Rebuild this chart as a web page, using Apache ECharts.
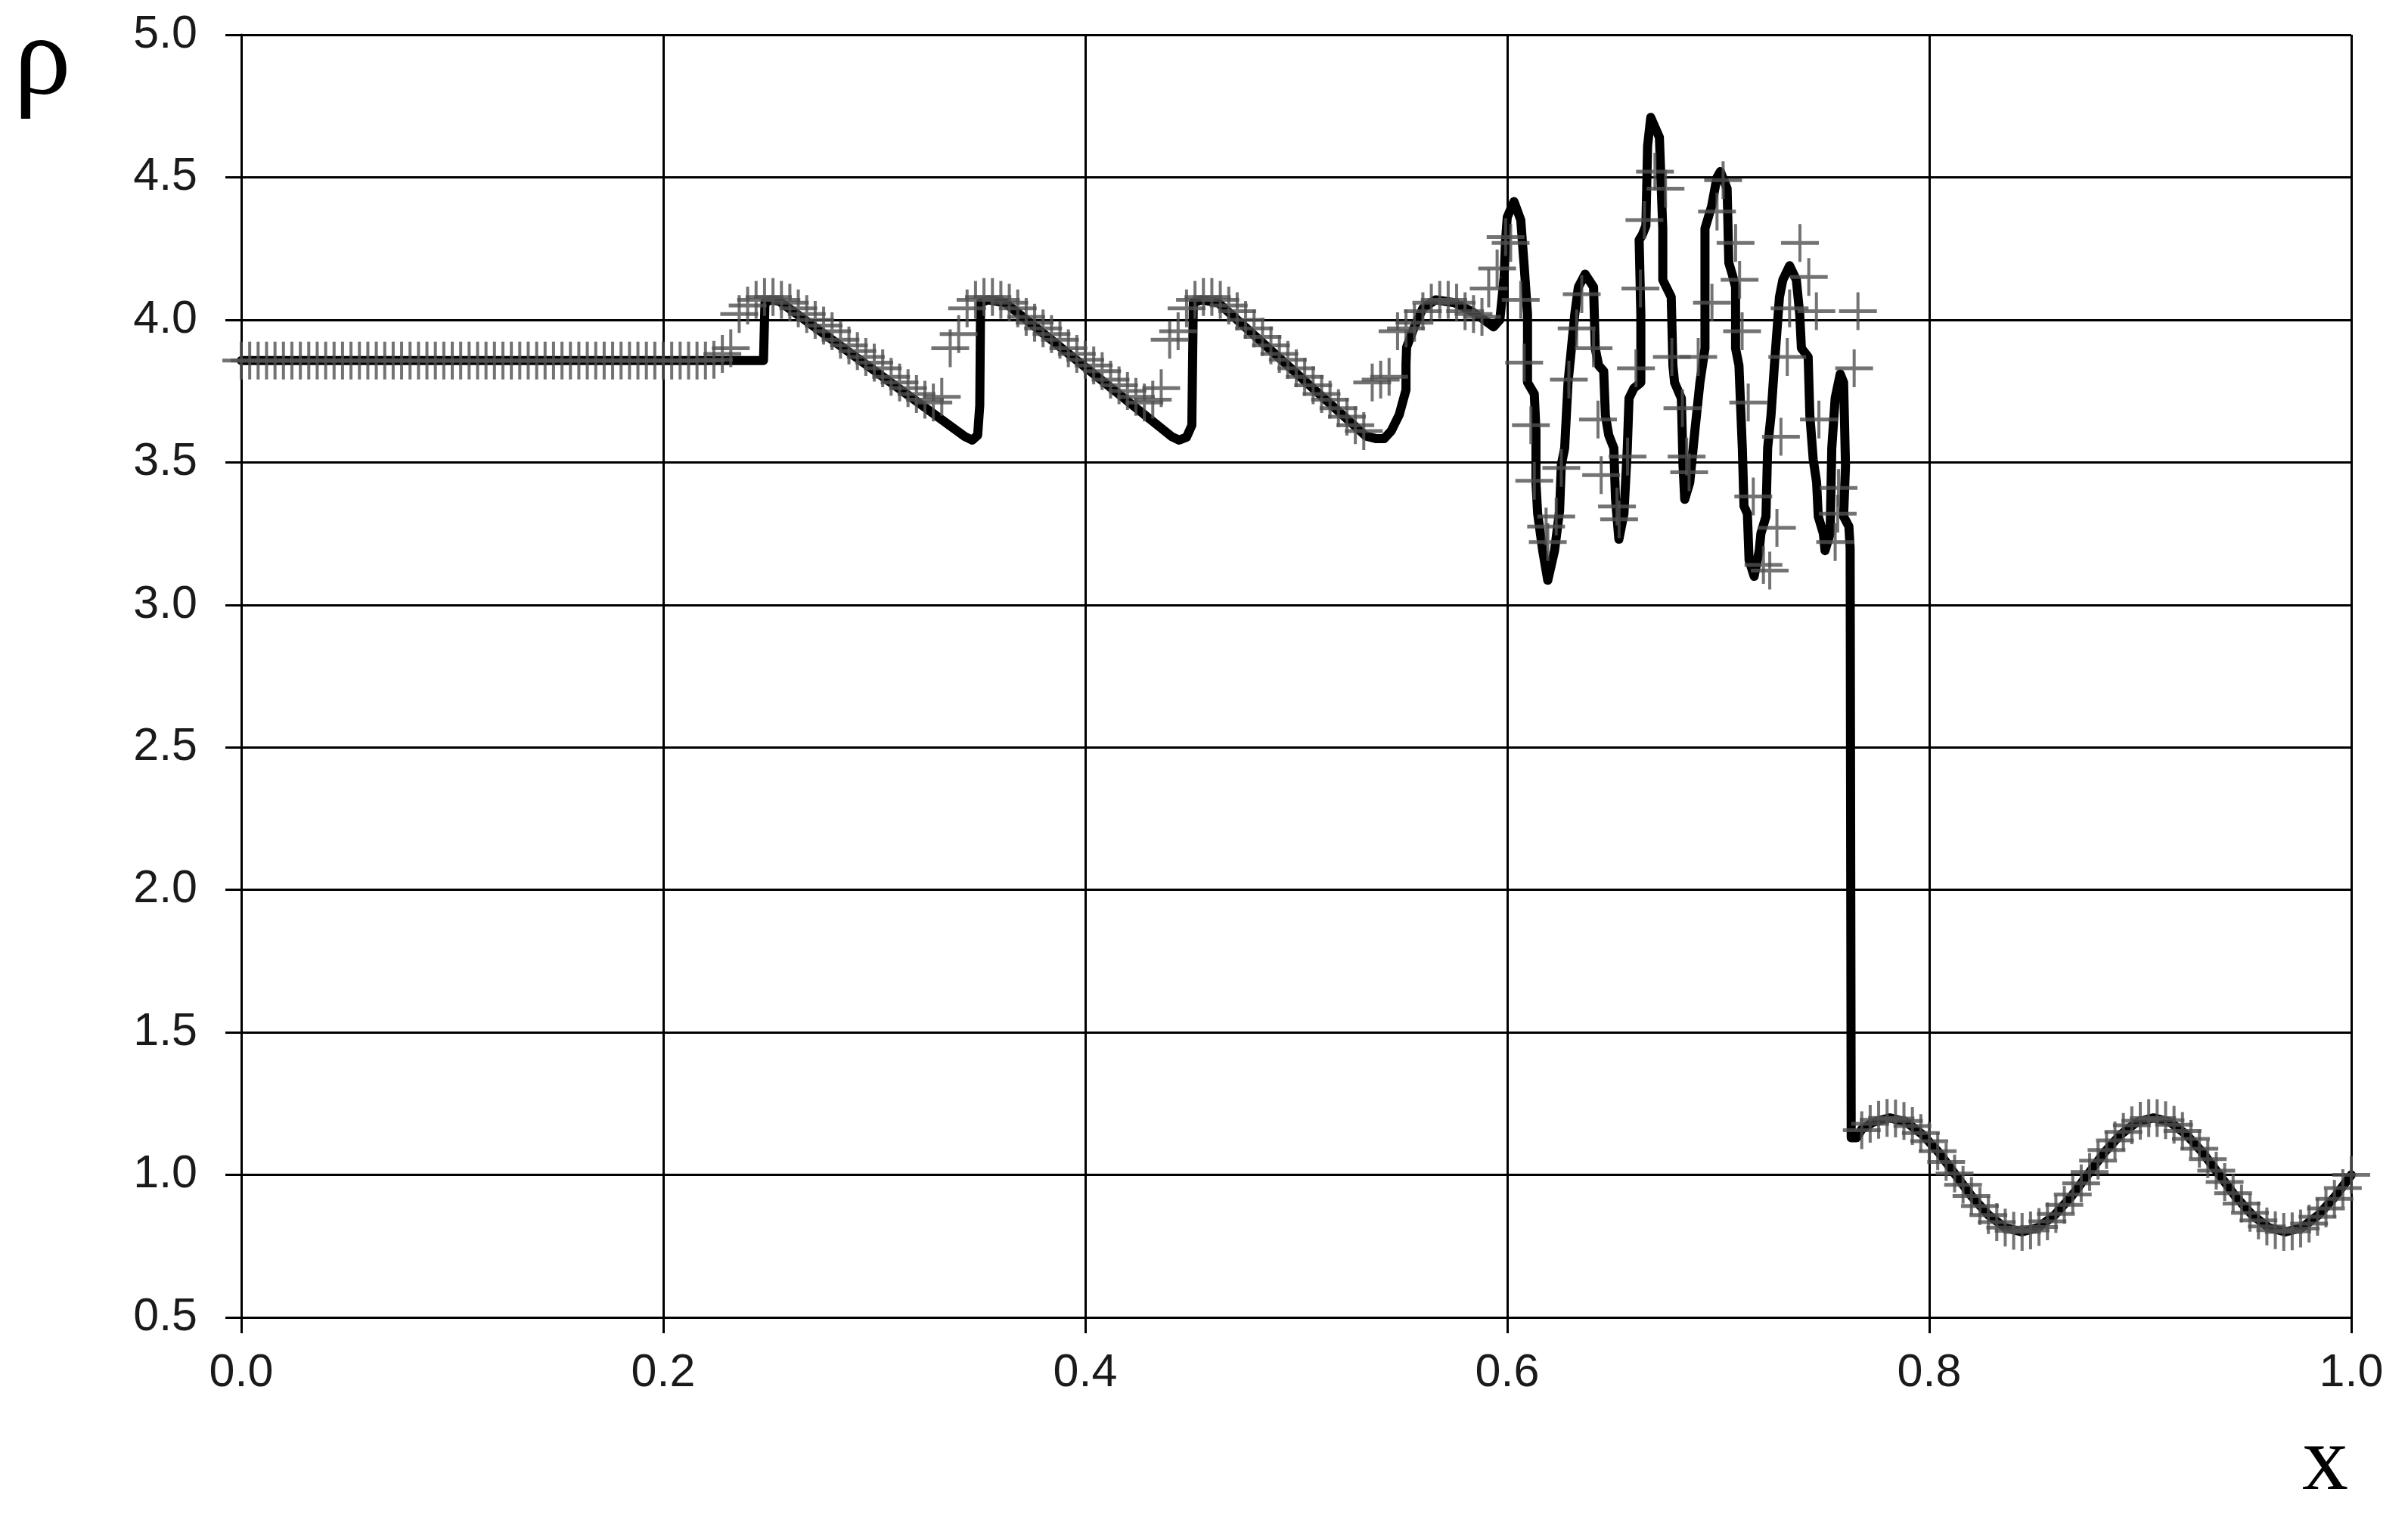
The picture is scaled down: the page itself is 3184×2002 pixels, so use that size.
<!DOCTYPE html>
<html>
<head>
<meta charset="utf-8">
<script src="https://cdn.jsdelivr.net/npm/echarts@6/dist/echarts.min.js"></script>
<style>
html,body{margin:0;padding:0;background:#fff;}
#chart{width:3184px;height:2002px;}
</style>
</head>
<body>
<div id="chart"></div>
<script>
// ---- axis ticks ----
const xTicks = [0.0, 0.2, 0.4, 0.6, 0.8, 1.0];
const yTicks = [0.5, 1.0, 1.5, 2.0, 2.5, 3.0, 3.5, 4.0, 4.5, 5.0];

// ---- exact solution (black line) ----
const exactX = [0,0.2475,0.2482,0.2510,0.2550,0.3430,0.3465,0.3490,0.3500,0.3504,0.3540,0.3620,0.4410,0.4445,0.4480,0.4505,0.4512,0.4550,0.4630,0.5330,0.5380,0.5416,0.5450,0.5488,0.5520,0.5520,0.5523,0.5559,0.5600,0.5660,0.5750,0.5830,0.5890,0.5935,0.5965,0.5985,0.5992,0.6000,0.6032,0.6064,0.6080,0.6096,0.6096,0.6128,0.6136,0.6136,0.6144,0.6168,0.6192,0.6224,0.6248,0.6256,0.6272,0.6288,0.6304,0.6320,0.6337,0.6369,0.6409,0.6417,0.6433,0.6457,0.6465,0.6481,0.6505,0.6513,0.6529,0.6553,0.6569,0.6577,0.6600,0.6633,0.6633,0.6625,0.6641,0.6657,0.6665,0.6680,0.6721,0.6737,0.6737,0.6777,0.6785,0.6793,0.6825,0.6833,0.6841,0.6865,0.6889,0.6913,0.6937,0.6937,0.6937,0.6969,0.6994,0.7010,0.7042,0.7050,0.7066,0.7082,0.7082,0.7098,0.7114,0.7122,0.7138,0.7146,0.7170,0.7194,0.7202,0.7226,0.7234,0.7250,0.7266,0.7290,0.7306,0.7338,0.7370,0.7386,0.7394,0.7426,0.7434,0.7450,0.7466,0.7474,0.7498,0.7506,0.7530,0.7538,0.7554,0.7578,0.7594,0.7603,0.7594,0.7619,0.7625,0.7630,0.7655,0.7680,0.7734,0.7813,0.7891,0.7969,0.8047,0.8125,0.8203,0.8281,0.8359,0.8438,0.8516,0.8594,0.8672,0.8750,0.8828,0.8906,0.8984,0.9063,0.9141,0.9219,0.9297,0.9375,0.9453,0.9531,0.9609,0.9688,0.9766,0.9844,0.9922,1.0];
const exactY = [3.857,3.857,4.06,4.07,4.065,3.59,3.578,3.595,3.70,4.06,4.07,4.06,3.59,3.578,3.588,3.63,4.06,4.07,4.06,3.592,3.583,3.583,3.61,3.667,3.754,3.842,3.904,3.974,4.04,4.07,4.06,4.03,4.00,3.975,4.00,4.15,4.28,4.36,4.415,4.35,4.19,4.02,3.78,3.74,3.61,3.43,3.32,3.19,3.086,3.19,3.33,3.49,3.55,3.78,3.90,4.02,4.115,4.16,4.115,3.90,3.84,3.82,3.665,3.595,3.55,3.37,3.23,3.32,3.55,3.725,3.76,3.78,4.02,4.28,4.30,4.33,4.61,4.71,4.64,4.32,4.14,4.08,3.84,3.78,3.725,3.49,3.37,3.43,3.61,3.78,3.90,4.08,4.32,4.40,4.50,4.52,4.46,4.20,4.16,4.115,3.90,3.84,3.55,3.346,3.32,3.157,3.10,3.19,3.25,3.31,3.55,3.665,3.84,4.08,4.14,4.19,4.14,4.02,3.90,3.87,3.665,3.51,3.43,3.31,3.25,3.19,3.25,3.55,3.725,3.81,3.78,3.49,3.31,3.275,3.20,1.13,1.13,1.16,1.185,1.20,1.185,1.141,1.077,1.00,0.923,0.859,0.815,0.80,0.815,0.859,0.923,1.00,1.077,1.141,1.185,1.20,1.185,1.141,1.077,1.00,0.923,0.859,0.815,0.80,0.815,0.859,0.923,1.00];

// ---- numerical solution (grey + markers) ----
const gridStep = 0.004;
// uniform cells from x = 0 to x = 0.588
const leftY = [3.857,3.857,3.857,3.857,3.857,3.857,3.857,3.857,3.857,3.857,3.857,3.857,3.857,3.857,3.857,3.857,3.857,3.857,3.857,3.857,3.857,3.857,3.857,3.857,3.857,3.857,3.857,3.857,3.857,3.857,3.857,3.857,3.857,3.857,3.857,3.857,3.857,3.857,3.857,3.857,3.857,3.857,3.857,3.857,3.857,3.857,3.857,3.857,3.857,3.857,3.857,3.857,3.857,3.857,3.857,3.857,
 3.86,3.88,3.90,4.02,4.05,4.07,4.08,4.08,4.07,4.06,
 4.04,4.02,4.00,3.98,3.96,3.93,3.91,3.89,3.87,3.85,3.83,3.80,3.78,3.76,3.74,3.72,3.71,
 3.73,3.90,3.95,4.04,4.07,4.08,4.08,4.07,4.06,
 4.04,4.01,3.99,3.97,3.95,3.93,3.90,3.88,3.86,3.84,3.82,3.79,3.77,3.75,3.73,3.71,
 3.72,3.76,3.93,3.96,4.04,4.07,4.08,4.08,4.07,4.05,
 4.03,4.00,3.97,3.94,3.91,3.88,3.86,3.83,3.80,3.77,3.74,3.72,3.69,3.66,3.63,3.61,
 3.78,3.79,3.80,3.96,3.97,3.99,4.03,4.06,4.07,4.07,4.06,4.03,4.02,4.01];
// oscillatory zone, read marker by marker
const midX = [0.5912,0.5952,0.5992,0.6016,0.6064,0.6080,0.6112,0.6128,0.6184,0.6192,0.6232,0.6256,0.6292,0.6329,0.6353,0.6409,0.6430,0.6445,0.6520,0.6530,0.6570,0.6610,0.6631,0.6650,0.6700,0.6750,0.6780,0.6830,0.6850,0.6862,0.6905,0.6970,0.6994,0.7023,0.7082,0.7101,0.7113,0.7142,0.7166,0.7214,0.7244,0.7278,0.7297,0.7327,0.7338,0.7387,0.7429,0.7465,0.7477,0.7554,0.7566,0.7570,0.7644,0.7662];
const midY = [4.11,4.18,4.29,4.27,4.07,3.85,3.63,3.435,3.275,3.22,3.31,3.48,3.79,3.97,4.09,3.90,3.65,3.455,3.345,3.30,3.52,3.83,4.11,4.35,4.52,4.46,3.87,3.69,3.52,3.465,3.87,4.06,4.38,4.49,4.27,4.14,3.96,3.71,3.38,3.14,3.12,3.27,3.59,3.87,4.04,4.27,4.15,4.03,3.65,3.22,3.32,3.41,3.83,4.03];
// uniform cells from x = 0.768 to x = 1.0
const rightX0 = 0.768;
const rightY = [1.157,1.179,1.193,1.200,1.198,1.189,1.171,1.147,1.118,1.083,1.045,1.005,0.965,0.926,0.891,0.859,0.834,0.815,0.804,0.800,0.805,0.817,0.837,0.863,0.895,0.931,0.970,1.010,1.050,1.087,1.121,1.151,1.174,1.190,1.199,1.199,1.192,1.176,1.154,1.126,1.092,1.055,1.015,0.975,0.936,0.899,0.867,0.840,0.819,0.806,0.800,0.802,0.812,0.829,0.853,0.882,0.916,0.954,1.000];

const exactData = exactX.map((x, i) => [x, exactY[i]]);
const numData = [];
leftY.forEach((y, i) => numData.push([+(i * gridStep).toFixed(4), y]));
midX.forEach((x, i) => numData.push([x, midY[i]]));
rightY.forEach((y, i) => numData.push([+(rightX0 + i * gridStep).toFixed(4), y]));

// "+" marker: vertical bar 4 px, horizontal bar 5 px at 50 px size
const crossPath = 'path://M23,0L27,0L27,50L23,50Z M0,22.5L50,22.5L50,27.5L0,27.5Z';

const chart = echarts.init(document.getElementById('chart'), null, {renderer: 'canvas'});
const axisCommon = {
  axisLine: {show: true, lineStyle: {color: '#000', width: 3}},
  axisTick: {show: true, inside: false, length: 21, lineStyle: {color: '#000', width: 3}},
  splitLine: {show: true, lineStyle: {color: '#000', width: 3}},
  axisLabel: {color: '#1a1a1a', fontSize: 61, fontFamily: 'Liberation Sans, Arial, sans-serif',
    formatter: v => Number(v).toFixed(1)}
};
chart.setOption({
  animation: false,
  backgroundColor: '#ffffff',
  grid: {left: 319, right: 75, top: 46, bottom: 260, containLabel: false},
  xAxis: Object.assign({type: 'value', min: xTicks[0], max: xTicks[xTicks.length - 1], interval: 0.2}, axisCommon,
    {axisLabel: Object.assign({}, axisCommon.axisLabel, {margin: 44})}),
  yAxis: Object.assign({type: 'value', min: yTicks[0], max: yTicks[yTicks.length - 1], interval: 0.5}, axisCommon,
    {axisLabel: Object.assign({}, axisCommon.axisLabel, {margin: 58})}),
  graphic: [
    {type: 'text', left: 18, top: 8, style: {text: 'ρ', fontSize: 152, fontFamily: 'Liberation Serif, Times New Roman, serif', fill: '#000'}},
    {type: 'text', left: 3044, top: 1876, style: {text: 'x', fontSize: 122, fontFamily: 'Liberation Serif, Times New Roman, serif', fill: '#000'}}
  ],
  series: [
    {name: 'exact', type: 'line', data: exactData, showSymbol: false, symbol: 'none', smooth: false,
      lineStyle: {color: '#000', width: 12, join: 'round', cap: 'round'}, z: 2},
    {name: 'numerical', type: 'scatter', data: numData, symbol: crossPath, symbolSize: 50,
      itemStyle: {color: '#505050'}, z: 3}
  ]
});
</script>
</body>
</html>
